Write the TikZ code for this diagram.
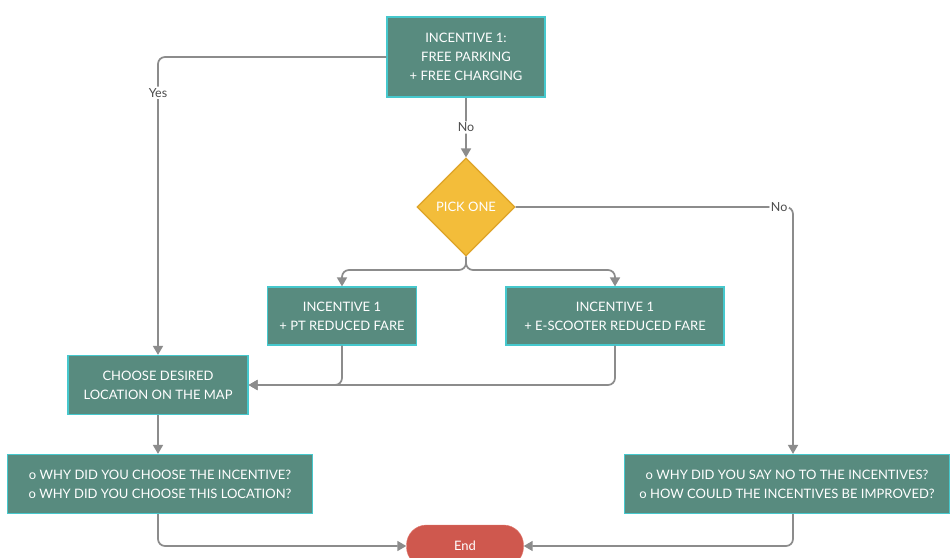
\documentclass[tikz,border=0pt]{standalone}
\usepackage{fontspec}
\setmainfont{Lato}
\definecolor{tealbox}{RGB}{88,139,127}
\definecolor{tealedge}{RGB}{70,200,205}
\definecolor{ambergold}{RGB}{243,189,58}
\definecolor{amberedge}{RGB}{222,164,40}
\definecolor{endred}{RGB}{207,88,78}
\definecolor{endedge}{RGB}{225,120,110}
\definecolor{linkgray}{RGB}{140,140,140}
\usetikzlibrary{arrows.meta, shapes.geometric, positioning}

\begin{document}
\begin{tikzpicture}[
    x=1pt, y=-1pt,
    box/.style={draw=tealedge, fill=tealbox, line width=1.2pt, text=white,
                font=\fontsize{13}{19}\selectfont, align=center, inner sep=0pt},
    pick/.style={diamond, draw=amberedge, fill=ambergold, line width=1.2pt,
                 text=white, font=\fontsize{13}{15}\selectfont, inner sep=0pt,
                 minimum width=98pt, minimum height=98pt},
    stop/.style={draw=endedge, fill=endred, rounded corners=20pt, text=white,
                 font=\fontsize{13}{15}\selectfont, minimum width=117pt,
                 minimum height=42pt},
    arr/.style={-{Triangle[length=9pt,width=10pt]}, line width=1.7pt,
                linkgray, rounded corners=7pt},
    tag/.style={fill=white, text=black!70, font=\fontsize{12.5}{14}\selectfont,
                inner sep=1.5pt}
  ]
    \clip (0,0) rectangle (952,557);
    \fill[white] (0,0) rectangle (952,557);

    %% TOP BOX
    \node[box, minimum width=158pt, minimum height=80pt] (inc) at (466,57)
      {INCENTIVE 1:\\FREE PARKING\\+ FREE CHARGING};

    %% DECISION
    \node[pick] (choice) at (466,207) {PICK ONE};

    %% THE TWO OFFERS
    \node[box, minimum width=149pt, minimum height=58pt] (ptfare) at (342,316)
      {INCENTIVE 1\\+ PT REDUCED FARE};
    \node[box, minimum width=218pt, minimum height=58pt] (scooter) at (615,316)
      {INCENTIVE 1\\+ E-SCOOTER REDUCED FARE};

    %% MAP
    \node[box, minimum width=180pt, minimum height=59pt] (map) at (158,385)
      {CHOOSE DESIRED\\LOCATION ON THE MAP};

    %% QUESTIONS
    \node[box, minimum width=305pt, minimum height=59pt] (askyes) at (160,484)
      {o WHY DID YOU CHOOSE THE INCENTIVE?\\o WHY DID YOU CHOOSE THIS LOCATION?};
    \node[box, minimum width=325pt, minimum height=59pt] (askno) at (787,484)
      {o WHY DID YOU SAY NO TO THE INCENTIVES?\\o HOW COULD THE INCENTIVES BE IMPROVED?};

    %% END
    \node[stop] (finish) at (465,546) {End};

    %% ARROWS
    \draw[arr] (inc.west) -| node[tag, pos=0.56]{Yes} (map.north);
    \draw[arr] (inc.south) -- node[tag, pos=0.5]{No} (choice.north);
    \coordinate (nobend) at (793,207);
    \draw[arr] (choice.east) -- (nobend) node[tag, pos=0.95]{No}
      -- (askno.north -| nobend);
    \coordinate (split) at (466,270);
    \draw[arr] (choice.south) -- (split) -| (ptfare.north);
    \draw[arr] (choice.south) -- (split) -| (scooter.north);
    \draw[arr] (ptfare.south) |- (map.east);
    \draw[arr] (scooter.south) |- (map.east);
    \draw[arr] (map.south) -- (map.south |- askyes.north);
    \draw[arr] (map.south |- askyes.south) |- (finish.west);
    \draw[arr] (askno.south -| nobend) |- (finish.east);
  \end{tikzpicture}
\end{document}
